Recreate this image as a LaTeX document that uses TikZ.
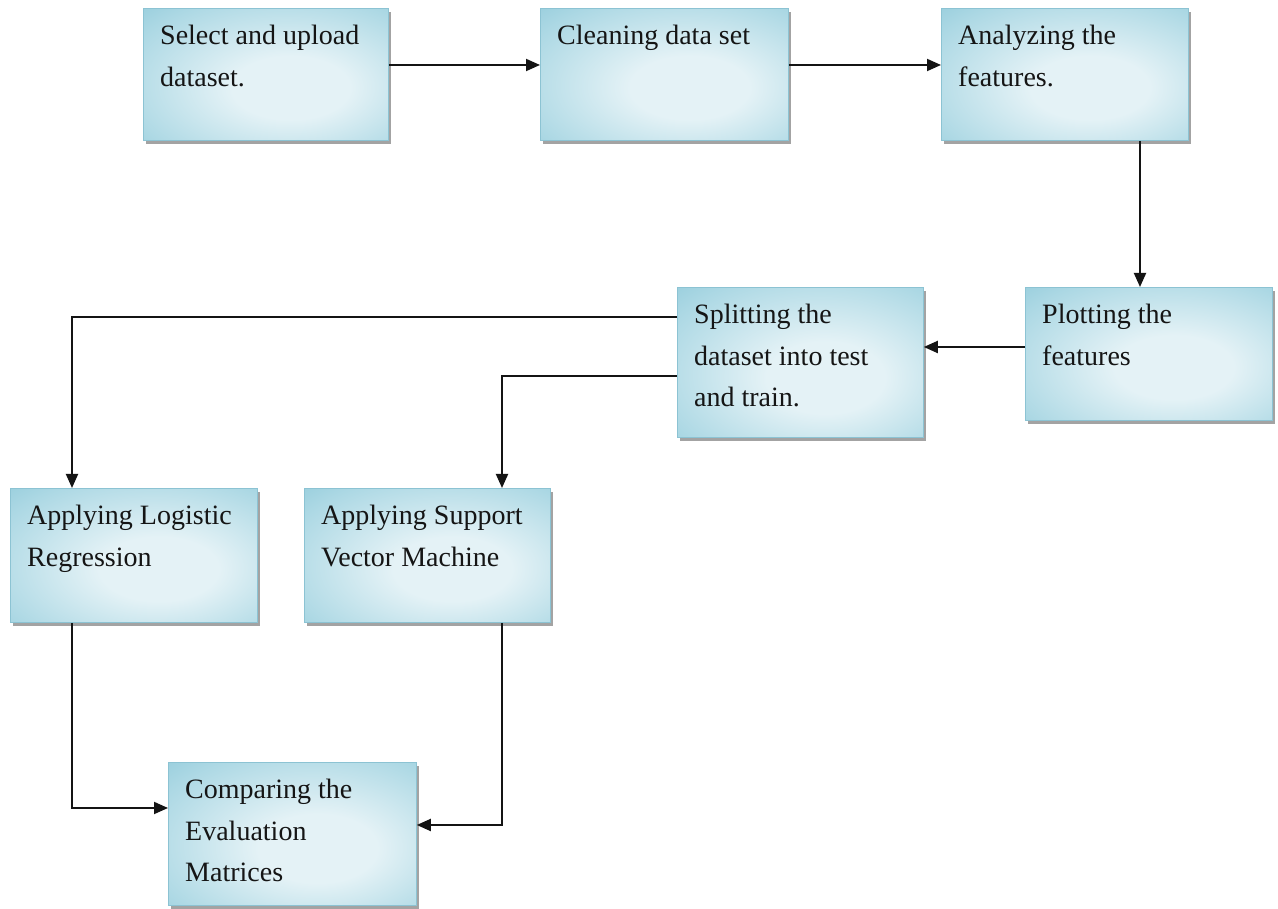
\documentclass[tikz,border=0pt]{standalone}
\usepackage{fontspec}
\setmainfont{Liberation Serif}
\usetikzlibrary{arrows.meta,shadows,positioning}

\definecolor{boxin}{HTML}{E4F2F6}
\definecolor{boxmid}{HTML}{ACD8E4}
\definecolor{boxout}{HTML}{7BBFD2}
\definecolor{boxedge}{HTML}{8CC3D3}
\definecolor{ink}{HTML}{151515}

% soft light centre fading to teal towards the corners
\pgfdeclareradialshading{boxfill}{\pgfpoint{6bp}{-6bp}}{%
  color(0bp)=(boxin); color(12bp)=(boxin); color(34bp)=(boxmid);
  color(52bp)=(boxout); color(80bp)=(boxout)}

\tikzset{
  stepbox/.style={draw=boxedge, line width=0.8pt, shading=boxfill,
    anchor=north west, inner sep=0pt,
    drop shadow={shadow xshift=3pt, shadow yshift=-3.5pt, fill=black!60, opacity=0.6}},
  lbl/.style={anchor=north west, align=left, inner sep=0pt, text=ink,
    font=\fontsize{28}{41.5}\selectfont},
  arr/.style={line width=1.9pt, draw=black!92,
    -{Triangle[length=14pt,width=12pt]}},
}

\begin{document}
\begin{tikzpicture}[x=1pt,y=1pt]
\useasboundingbox[fill=white] (0,0) rectangle (1278,909);

% boxes (top-left corner, size)
\node[stepbox, minimum width=245, minimum height=132] (b1) at (143,901) {};
\node[stepbox, minimum width=248, minimum height=132] (b2) at (540,901) {};
\node[stepbox, minimum width=247, minimum height=132] (b3) at (941,901) {};
\node[stepbox, minimum width=247, minimum height=133] (b4) at (1025,622) {};
\node[stepbox, minimum width=246, minimum height=150] (b5) at (677,622) {};
\node[stepbox, minimum width=247, minimum height=134] (b6) at (10,421) {};
\node[stepbox, minimum width=246, minimum height=134] (b7) at (304,421) {};
\node[stepbox, minimum width=248, minimum height=143] (b8) at (168,147) {};

% labels
\node[lbl] (t1) at ([xshift=17,yshift=-17]b1.north west) {Select and upload\\dataset.};
\node[lbl] (t2) at ([xshift=17,yshift=-17]b2.north west) {Cleaning data set};
\node[lbl] (t3) at ([xshift=17,yshift=-17]b3.north west) {Analyzing the\\features.};
\node[lbl] (t4) at ([xshift=17,yshift=-17]b4.north west) {Plotting the\\features};
\node[lbl] (t5) at ([xshift=17,yshift=-17]b5.north west) {Splitting the\\dataset into test\\and train.};
\node[lbl] (t6) at ([xshift=17,yshift=-17]b6.north west) {Applying Logistic\\Regression};
\node[lbl] (t7) at ([xshift=17,yshift=-17]b7.north west) {Applying Support\\Vector Machine};
\node[lbl] (t8) at ([xshift=17,yshift=-17]b8.north west) {Comparing the\\Evaluation\\Matrices};

% routing helpers
\coordinate (rowA) at (0,844);
\coordinate (colC) at (1140,0);
\coordinate (rowP) at (0,562);
\coordinate (rowS1) at (0,592);
\coordinate (rowS2) at (0,533);
\coordinate (colL) at (72,0);
\coordinate (colV) at (502,0);
\coordinate (rowE1) at (0,101);
\coordinate (rowE2) at (0,84);

% connectors
\draw[arr] (b1.east |- rowA) -- (b2.west |- rowA);
\draw[arr] (b2.east |- rowA) -- (b3.west |- rowA);
\draw[arr] (b3.south -| colC) -- (b4.north -| colC);
\draw[arr] (b4.west |- rowP) -- (b5.east |- rowP);
\draw[arr] (b5.west |- rowS1) -| (b6.north -| colL);
\draw[arr] (b5.west |- rowS2) -| (b7.north -| colV);
\draw[arr] (b6.south -| colL) |- (b8.west |- rowE1);
\draw[arr] (b7.south -| colV) |- (b8.east |- rowE2);
\end{tikzpicture}
\end{document}
